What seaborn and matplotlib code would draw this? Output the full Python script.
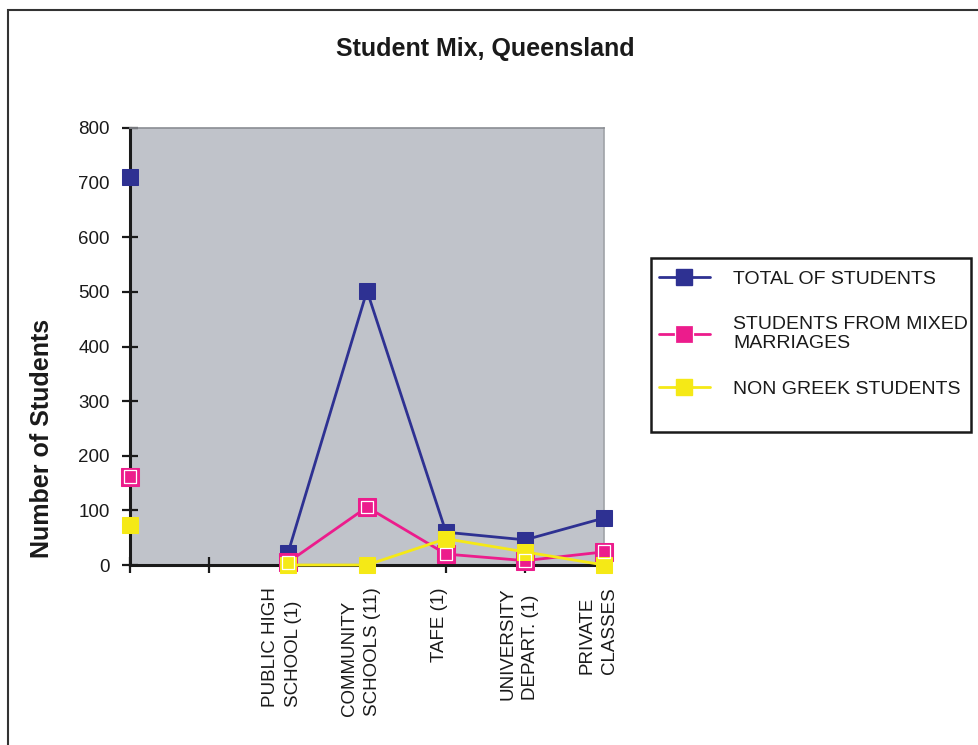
import numpy as np
import pandas as pd
import matplotlib
matplotlib.use("Agg")
import matplotlib.pyplot as plt
from matplotlib.lines import Line2D
from matplotlib.patches import Rectangle
import seaborn as sns

# values (second category has no data)
categories = ["", "", "PUBLIC HIGH\nSCHOOL (1)", "COMMUNITY\nSCHOOLS (11)",
              "TAFE (1)", "UNIVERSITY\nDEPART. (1)", "PRIVATE\nCLASSES"]
total_students = [710, np.nan, 22, 502, 60, 46, 86]
mixed_marriages = [162, np.nan, 5, 106, 20, 8, 24]
non_greek = [74, np.nan, 0, 0, 48, 24, 0]

series_names = ["TOTAL OF STUDENTS", "STUDENTS FROM MIXED\nMARRIAGES", "NON GREEK STUDENTS"]
series_values = [total_students, mixed_marriages, non_greek]
colors = ["#2E3192", "#EC1C8C", "#F5E916"]
PINK = colors[1]

sns.set_style("white")
plt.rcParams["font.family"] = ["Liberation Sans", "DejaVu Sans"]

fig = plt.figure(figsize=(9.79, 7.45), dpi=100)
ax = fig.add_axes([130 / 979, 1 - 565 / 745, 474 / 979, 437 / 745])
ax.set_facecolor("#C0C3CA")

x = np.arange(len(categories))
for name, vals, col in zip(series_names, series_values, colors):
    df = pd.DataFrame({"x": x, "y": vals})
    # break the line where a category is empty
    df["seg"] = df["y"].isna().cumsum()
    df = df.dropna()
    msize = 12.5 if col == PINK else 11.5
    sns.lineplot(data=df, x="x", y="y", units="seg", estimator=None, ax=ax,
                 color=col, linewidth=2, marker="s", markersize=msize,
                 markeredgecolor=col, clip_on=False, legend=False, zorder=3)
    if col == PINK:
        sns.scatterplot(data=df, x="x", y="y", ax=ax, marker="s", s=85,
                        facecolor="none", edgecolor="white", linewidth=0.9,
                        clip_on=False, legend=False, zorder=4)

ax.set_xlim(0, 6)
ax.set_ylim(0, 800)
ax.set_yticks(range(0, 801, 100))
# tick marks on the categories, labels sit a little to the left (minor ticks)
ax.set_xticks(x)
ax.set_xticklabels([""] * len(x))
ax.set_xticks(x[2:] - 0.076, minor=True)
ax.set_xticklabels(categories[2:], minor=True, rotation=90, va="top",
                   ha="center", multialignment="left", linespacing=1.45)
ax.tick_params(axis="both", direction="inout", length=12, width=1.6,
               color="#1a1a1a", labelsize=13.5, labelcolor="#1a1a1a",
               bottom=True, left=True)
ax.tick_params(axis="x", which="minor", length=0, pad=16, labelsize=13.5,
               labelcolor="#1a1a1a", bottom=True)
ax.tick_params(axis="y", pad=8.5)
ax.set_xlabel("")
ax.set_ylabel("Number of Students", fontsize=18, fontweight="bold", color="#1a1a1a")
ax.yaxis.set_label_coords(-0.16, 0.29)

for side in ["left", "bottom"]:
    ax.spines[side].set_color("#1a1a1a")
    ax.spines[side].set_linewidth(2.2)
    ax.spines[side].set_zorder(2)
ax.spines["top"].set_color("#8a8d93")
ax.spines["top"].set_linewidth(1.2)
ax.spines["right"].set_color("#a0a3a8")
ax.spines["right"].set_linewidth(1.2)

fig.text(485 / 979, 1 - 49 / 745, "Student Mix, Queensland", ha="center",
         va="center", fontsize=18, fontweight="bold", color="#1a1a1a")

handles = []
for col in colors:
    h = Line2D([0], [0], color=col, linewidth=2, marker="s",
               markersize=12.5 if col == PINK else 11.5,
               markeredgecolor="white" if col == PINK else col,
               markeredgewidth=0.9 if col == PINK else 1)
    handles.append(h)
leg = fig.legend(handles, series_names, loc="upper left",
                 bbox_to_anchor=(659 / 979, 1 - 270 / 745), fontsize=14,
                 frameon=False, handlelength=2.6, labelspacing=1.45,
                 borderpad=0, borderaxespad=0, handletextpad=1.2)
for t in leg.get_texts():
    t.set_color("#1a1a1a")

# legend box drawn separately (extra empty space at the bottom like the original)
fig.patches.append(Rectangle((651 / 979, 1 - 432 / 745), 320 / 979, 174 / 745,
                             transform=fig.transFigure, fill=False,
                             edgecolor="#1a1a1a", linewidth=1.8))

# outer chart border
fig.patches.append(Rectangle((8 / 979, -0.2), 1.2, 1.2 - 10 / 745,
                             transform=fig.transFigure, fill=False,
                             edgecolor="#333333", linewidth=1.5))

fig.savefig("out.png", dpi=100)
